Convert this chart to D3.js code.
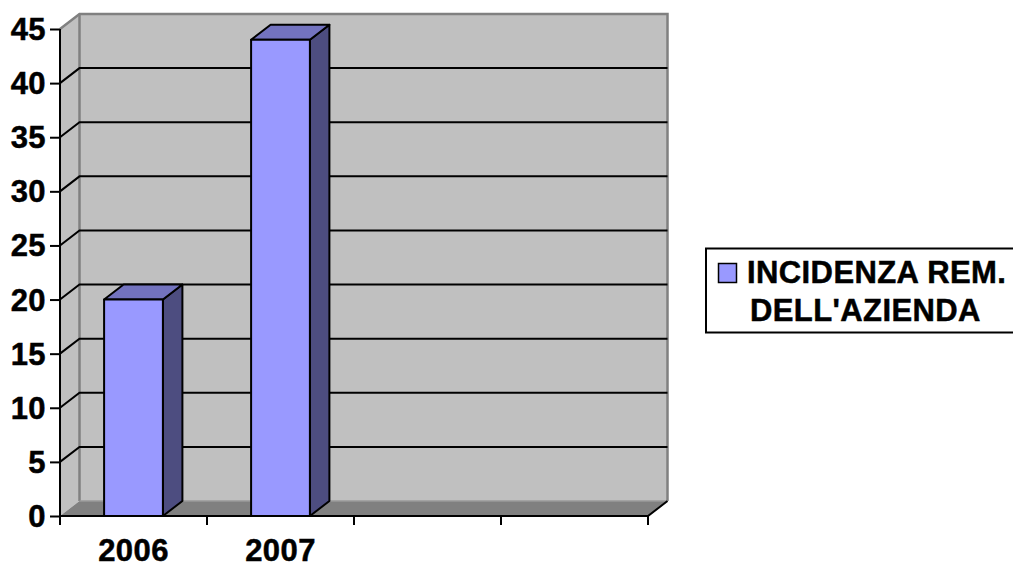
<!DOCTYPE html>
<html>
<head>
<meta charset="utf-8">
<script src="https://cdn.jsdelivr.net/npm/d3@7"></script>
<style>
  html, body { margin: 0; padding: 0; background: #ffffff; }
  svg { display: block; }
  text { font-family: "Liberation Sans", Arial, sans-serif; font-weight: bold; }
</style>
</head>
<body>
<svg id="chart" width="1013" height="568"></svg>
<script>
// Category slots (the last two are empty in the sheet)
const categories = ["2006", "2007", "", ""];
const values = [20, 44, null, null];
const yTicks = [0, 5, 10, 15, 20, 25, 30, 35, 40, 45];
const seriesName = ["INCIDENZA REM.", "DELL'AZIENDA"];

const plot = { left: 60, right: 648, top: 29, bottom: 516 };
const depth = { dx: 19.5, dy: -15 };

// heavy label style shared by axes and legend
function labelStyle(sel) {
  sel.attr("font-family", '"Liberation Sans", Arial, sans-serif')
    .attr("font-weight", "bold")
    .attr("font-size", 31)
    .attr("letter-spacing", 0.4)
    .attr("fill", "#000")
    .attr("stroke", "#000")
    .attr("stroke-width", 0.5);
}

const svg = d3.select("#chart");

const y = d3.scaleLinear().domain([0, 45]).range([plot.bottom, plot.top]);
const x = d3.scaleBand()
  .domain(d3.range(categories.length))
  .range([plot.left, plot.right])
  .paddingInner(0.6)
  .paddingOuter(0.3);

const wallFill = "#c0c0c0", floorFill = "#808080", edge = "#808080";
const bx0 = plot.left + depth.dx, bx1 = plot.right + depth.dx;
const by0 = plot.top + depth.dy, by1 = plot.bottom + depth.dy;

// back wall
svg.append("rect")
  .attr("x", bx0).attr("y", by0)
  .attr("width", bx1 - bx0).attr("height", by1 - by0)
  .attr("fill", wallFill);

// left side wall
svg.append("polygon")
  .attr("points", [[plot.left, plot.top], [bx0, by0], [bx0, by1], [plot.left, plot.bottom]].join(" "))
  .attr("fill", wallFill);

// floor
svg.append("polygon")
  .attr("points", [[plot.left, plot.bottom], [bx0, by1], [bx1, by1], [plot.right, plot.bottom]].join(" "))
  .attr("fill", floorFill);

// wall edges
svg.append("path")
  .attr("d", `M${plot.left},${plot.top}L${bx0},${by0}L${bx1},${by0}L${bx1},${by1}`)
  .attr("fill", "none").attr("stroke", edge).attr("stroke-width", 2.5);
svg.append("line")
  .attr("x1", bx0).attr("x2", bx0).attr("y1", by0).attr("y2", by1)
  .attr("stroke", edge).attr("stroke-width", 2.5);
svg.append("line")
  .attr("x1", bx0).attr("x2", bx1).attr("y1", by1).attr("y2", by1)
  .attr("stroke", "#9a9a9a").attr("stroke-width", 1.5);

// gridlines across the back wall and side wall
const grid = svg.append("g");
yTicks.filter(t => t > 0 && t < 45).forEach(t => {
  const yy = y(t);
  grid.append("path")
    .attr("d", `M${plot.left},${yy}L${bx0},${yy + depth.dy}L${bx1},${yy + depth.dy}`)
    .attr("fill", "none").attr("stroke", "#000").attr("stroke-width", 2);
});

// bars
const frontFill = "#9999ff", topFill = "#7373bf", sideFill = "#4d4d80";
const bars = svg.append("g");
values.forEach((v, i) => {
  if (v == null) return;
  const x0 = x(i), x1 = x(i) + x.bandwidth();
  const y0 = y(0), y1 = y(v);
  const g = bars.append("g")
    .attr("stroke", "#000").attr("stroke-width", 2).attr("stroke-linejoin", "round");
  g.append("polygon")
    .attr("points", [[x1, y1], [x1 + depth.dx, y1 + depth.dy], [x1 + depth.dx, y0 + depth.dy], [x1, y0]].join(" "))
    .attr("fill", sideFill);
  g.append("polygon")
    .attr("points", [[x0, y1], [x0 + depth.dx, y1 + depth.dy], [x1 + depth.dx, y1 + depth.dy], [x1, y1]].join(" "))
    .attr("fill", topFill);
  g.append("rect")
    .attr("x", x0).attr("y", y1)
    .attr("width", x1 - x0).attr("height", y0 - y1)
    .attr("fill", frontFill);
});

// y axis
const yAxis = svg.append("g")
  .attr("transform", `translate(${plot.left},0)`)
  .call(d3.axisLeft(y).tickValues(yTicks).tickSize(10).tickPadding(4).tickFormat(d3.format("d")));
yAxis.select(".domain").attr("stroke", "#000").attr("stroke-width", 2).attr("d", `M0,${plot.top}V${plot.bottom}`);
yAxis.selectAll(".tick line").attr("stroke", "#000").attr("stroke-width", 2);
yAxis.selectAll(".tick text").call(labelStyle).attr("dy", "0.34em");

// x axis: ticks fall between categories
const boundaries = d3.range(categories.length + 1).map(i => plot.left + i * x.step());
const xAxis = svg.append("g");
xAxis.append("path")
  .attr("d", `M${plot.left},${plot.bottom}H${plot.right}L${bx1},${by1}`)
  .attr("fill", "none").attr("stroke", "#000").attr("stroke-width", 2);
xAxis.selectAll("line.tick").data(boundaries).join("line")
  .attr("class", "tick")
  .attr("x1", d => d).attr("x2", d => d)
  .attr("y1", plot.bottom).attr("y2", plot.bottom + 9)
  .attr("stroke", "#000").attr("stroke-width", 2);
xAxis.selectAll("text").data(categories).join("text")
  .attr("x", (d, i) => x(i) + x.bandwidth() / 2)
  .attr("y", 561)
  .attr("text-anchor", "middle")
  .call(labelStyle)
  .text(d => d);

// legend
const legend = svg.append("g");
legend.append("rect")
  .attr("x", 706).attr("y", 248.5).attr("width", 320).attr("height", 84)
  .attr("fill", "#fff").attr("stroke", "#000").attr("stroke-width", 2);
legend.append("rect")
  .attr("x", 718.5).attr("y", 263.5).attr("width", 18).attr("height", 19)
  .attr("fill", frontFill).attr("stroke", "#000").attr("stroke-width", 1.5);
legend.selectAll("text.lbl").data(seriesName).join("text")
  .attr("class", "lbl")
  .attr("x", (d, i) => i === 0 ? 747 : 750)
  .attr("y", (d, i) => 283 + i * 38)
  .call(labelStyle)
  .text(d => d);
</script>
</body>
</html>
